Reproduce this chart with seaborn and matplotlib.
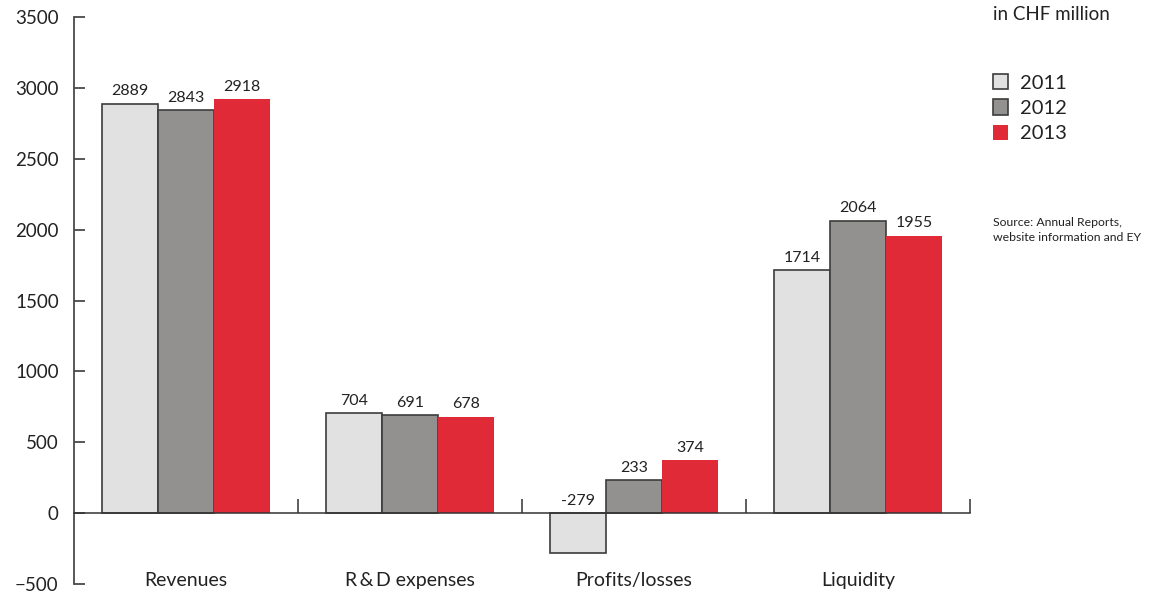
import matplotlib
matplotlib.use("Agg")
import matplotlib.pyplot as plt
import seaborn as sns
import pandas as pd

# Key figures, in CHF million
categories = ["Revenues", "R\u2009&\u2009D expenses", "Profits/losses", "Liquidity"]
years = ["2011", "2012", "2013"]
values_2011 = [2889, 704, -279, 1714]
values_2012 = [2843, 691, 233, 2064]
values_2013 = [2918, 678, 374, 1955]
y_ticks = [-500, 0, 500, 1000, 1500, 2000, 2500, 3000, 3500]

colors = {"2011": "#e1e1e1", "2012": "#92918f", "2013": "#e02a38"}
edge = {"2011": "#3c3c3c", "2012": "#3c3c3c", "2013": "none"}

series = {"2011": values_2011, "2012": values_2012, "2013": values_2013}
df = pd.DataFrame(
    [(c, y, v) for y in years for c, v in zip(categories, series[y])],
    columns=["category", "year", "value"],
)

sns.set_theme(style="white")
plt.rcParams["font.family"] = ["Lato", "DejaVu Sans"]
text_color = "#222222"
axis_color = "#4a4a4a"

fig = plt.figure(figsize=(11.57, 5.97), dpi=100)
W, H = 1157, 597
ax = fig.add_axes([74 / W, 13 / H, (970 - 74) / W, (584 - 17) / H])

sns.barplot(
    data=df, x="category", y="value", hue="year", order=categories,
    hue_order=years, palette=colors, width=0.75, saturation=1,
    dodge=True, legend=False, ax=ax,
)

ax.set_xlim(-0.5, len(categories) - 0.5)
ax.set_ylim(y_ticks[0], y_ticks[-1])

# bar outlines and value labels
for year, cont in zip(years, ax.containers):
    for bar, v in zip(cont, series[year]):
        if edge[year] == "none":
            bar.set_edgecolor("none")
            bar.set_linewidth(0)
        else:
            bar.set_edgecolor(edge[year])
            bar.set_linewidth(1.2)
        x = bar.get_x() + bar.get_width() / 2
        ax.annotate(str(v), (x, max(v, 0)),
                    xytext=(0, 4), textcoords="offset points",
                    ha="center", va="bottom", fontsize=11.5, color=text_color)

# axes styling
for side in ("top", "right"):
    ax.spines[side].set_visible(False)
ax.spines["left"].set_color(axis_color)
ax.spines["left"].set_linewidth(1.3)
ax.spines["bottom"].set_position(("data", 0))
ax.spines["bottom"].set_color("#333333")
ax.spines["bottom"].set_linewidth(1.1)

ax.set_yticks(y_ticks)
ax.set_yticklabels([f"{t}".replace("-", "\u2212") for t in y_ticks])
ax.tick_params(axis="y", direction="in", length=8, width=1.3, color=axis_color,
               pad=11, labelsize=13.5, labelcolor=text_color, left=True)

# group separators on the zero line
seps = [i + 0.5 for i in range(len(categories))]
ax.set_xticks(seps)
ax.set_xticklabels([""] * len(seps))
ax.tick_params(axis="x", direction="in", length=10, width=1.1, color="#333333",
               bottom=True)
ax.set_xlabel("")
ax.set_ylabel("")

# category names along the bottom
for i, c in enumerate(categories):
    ax.text(i, 0.007, c, transform=ax.get_xaxis_transform(), ha="center",
            va="center", fontsize=14, color=text_color)

# legend
handles = [ax.containers[i][0] for i in range(len(years))]
leg = fig.legend(handles, years, loc="upper left",
                 bbox_to_anchor=(993 / W, 1 - 74 / H), frameon=False,
                 fontsize=14.5, handlelength=0.75, handleheight=0.8,
                 handletextpad=0.6, labelspacing=0.38, borderaxespad=0,
                 borderpad=0)
for t in leg.get_texts():
    t.set_color(text_color)

fig.text(993 / W, 1 - 14 / H, "in CHF million", ha="left", va="center",
         fontsize=13.5, color=text_color)
fig.text(993 / W, 1 - 217 / H, "Source: Annual Reports,\nwebsite information and EY",
         ha="left", va="top", fontsize=8.8, color=text_color, linespacing=1.45)

fig.savefig("out.png", dpi=100)
